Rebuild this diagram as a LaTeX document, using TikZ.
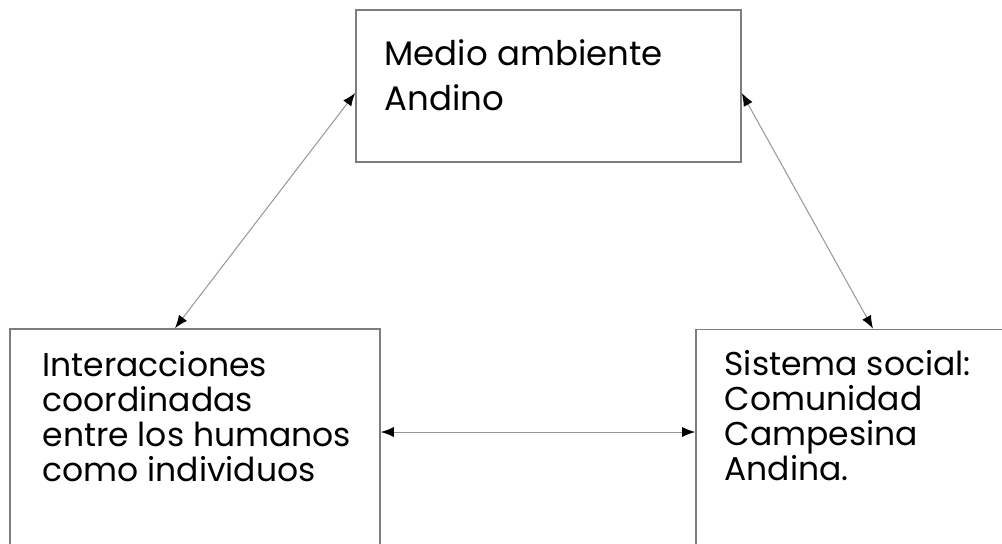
\documentclass[tikz,border=0pt]{standalone}
\usepackage{fontspec}
\setmainfont{Poppins}
\usepackage{tikz}
\usetikzlibrary{arrows.meta,calc,positioning}
\usepackage{xcolor}
\definecolor{Borde}{RGB}{125,125,125}
\definecolor{Flecha}{RGB}{150,150,150}

\begin{document}
\begin{tikzpicture}[x=0.5pt,y=-0.5pt,
  caja/.style={draw=Borde,line width=0.8pt,inner sep=0pt},
  texto/.style={anchor=north west,inner sep=0pt,align=left,font=\fontsize{16.5}{17.5}\selectfont},
  enlace/.style={Flecha,line width=0.5pt,{Latex[length=6.5pt,width=5pt,color=black]}-{Latex[length=6.5pt,width=5pt,color=black]}}]
\clip (0,0) rectangle (1002,543);
%
% cajas
\node[caja,minimum width=192.5pt,minimum height=76pt] (medio) at (548.5,86) {};
\node[caja,minimum width=185pt,minimum height=135.5pt] (interac) at (195,464.5) {};
\node[caja,minimum width=185pt,minimum height=135.5pt] (sistema) at (881,465) {};
%
% textos
\node[texto,font=\fontsize{17}{22.5}\selectfont,below right=15pt and 14.5pt of medio.north west] (tmedio) {Medio ambiente\\Andino};
\node[texto,below right=11.5pt and 16.5pt of interac.north west] (tinterac) {Interacciones\\coordinadas\\entre los humanos\\como individuos};
\node[texto,below right=10.5pt and 14.5pt of sistema.north west] (tsistema) {Sistema social:\\Comunidad\\Campesina\\Andina.};
%
% flechas
\draw[enlace] ([shift={(0,7)}]medio.west) -- ([shift={(-20,0)}]interac.north);
\draw[enlace] ([shift={(0,7)}]medio.east) -- ([shift={(-8,0)}]sistema.north);
\draw[enlace] ([shift={(0,-32.5)}]interac.east) -- ([shift={(0,-33)}]sistema.west);
%
\end{tikzpicture}
\end{document}
